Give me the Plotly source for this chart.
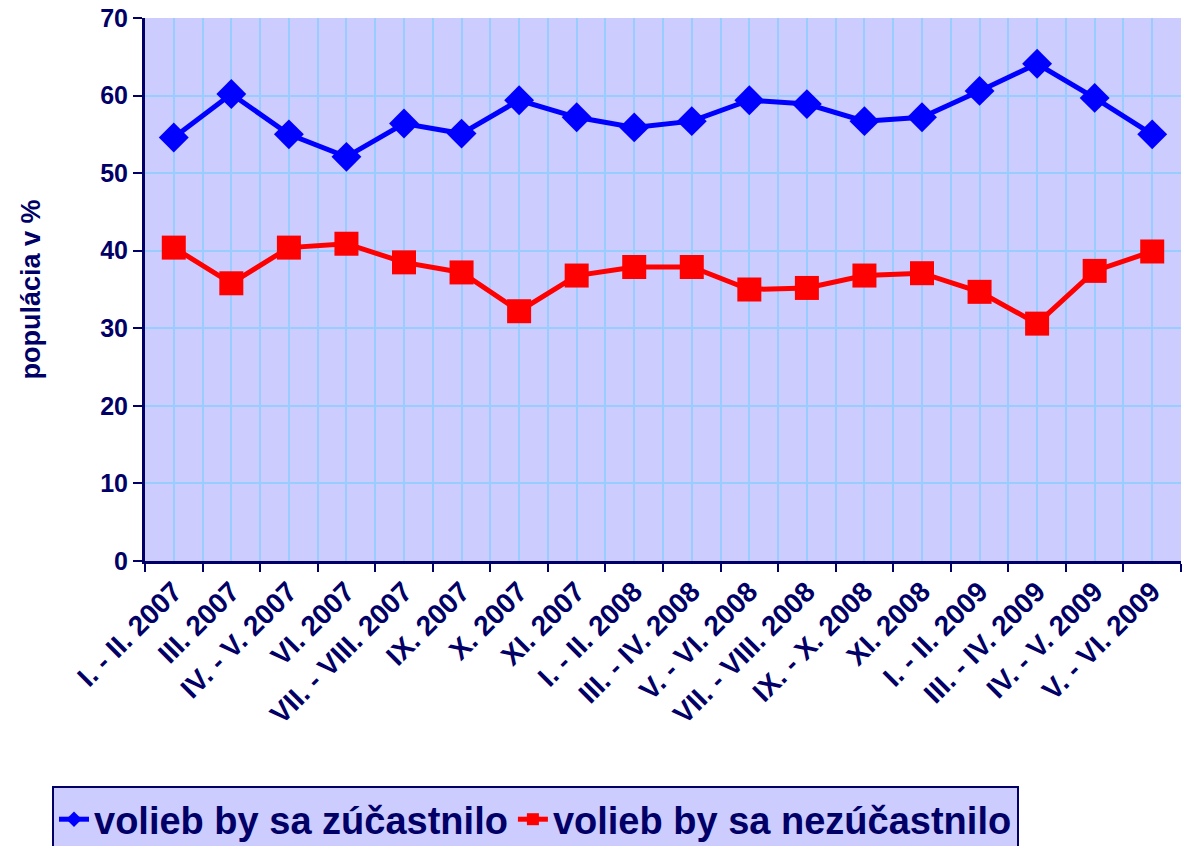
import plotly.graph_objects as go

categories = ["I. - II. 2007", "III. 2007", "IV. - V. 2007", "VI. 2007", "VII. - VIII. 2007",
              "IX. 2007", "X. 2007", "XI. 2007", "I. - II. 2008", "III. - IV. 2008",
              "V. - VI. 2008", "VII. - VIII. 2008", "IX. - X. 2008", "XI. 2008",
              "I. - II. 2009", "III. - IV. 2009", "IV. - V. 2009", "V. - VI. 2009"]
zucastnilo = [54.6, 60.2, 55.0, 52.1, 56.4, 55.1, 59.4, 57.2, 55.9, 56.7,
              59.4, 58.9, 56.7, 57.2, 60.6, 64.1, 59.7, 55.0]
nezucastnilo = [40.4, 35.8, 40.4, 40.9, 38.5, 37.2, 32.2, 36.8, 37.9, 37.9,
                35.0, 35.2, 36.8, 37.1, 34.7, 30.6, 37.4, 39.9]
series_names = ["volieb by sa zúčastnilo", "volieb by sa nezúčastnilo"]
y_ticks = [0, 10, 20, 30, 40, 50, 60, 70]

NAVY = "#000066"
FONT = "Liberation Sans, Arial, sans-serif"
xs = list(range(len(categories)))

fig = go.Figure()
fig.add_trace(go.Scatter(x=xs, y=zucastnilo, name=series_names[0], mode="lines+markers",
                         line=dict(color="#0000FF", width=5),
                         marker=dict(symbol="diamond", size=23, color="#0000FF")))
fig.add_trace(go.Scatter(x=xs, y=nezucastnilo, name=series_names[1], mode="lines+markers",
                         line=dict(color="#FF0000", width=5),
                         marker=dict(symbol="square", size=24, color="#FF0000")))

fig.update_layout(
    width=1189, height=846,
    margin=dict(l=145, r=8, t=18, b=285),
    paper_bgcolor="white", plot_bgcolor="#CCCCFF",
    font=dict(family=FONT, color=NAVY),
    showlegend=True,
    legend=dict(orientation="h", xref="container", yref="container",
                x=52/1189, y=1 - 786/846, xanchor="left", yanchor="top",
                bgcolor="#CCCCFF", bordercolor=NAVY, borderwidth=2,
                font=dict(family=FONT, size=38, color=NAVY, weight="bold"),
                itemsizing="constant", tracegroupgap=0),
)
fig.update_xaxes(
    range=[-0.5, len(categories) - 0.5],
    tickmode="array", tickvals=xs, ticktext=categories, tickangle=-45,
    tickfont=dict(family=FONT, size=28, color=NAVY, weight="bold"),
    ticks="", showgrid=True, gridcolor="#99CCFF", gridwidth=2,
    minor=dict(tickmode="array", tickvals=[i - 0.5 for i in range(len(categories) + 1)],
               ticks="outside", ticklen=8, tickcolor=NAVY, tickwidth=2,
               showgrid=True, gridcolor="#99CCFF", gridwidth=2),
    showline=True, linecolor=NAVY, linewidth=3, mirror=False,
    zeroline=False, automargin=False,
)
fig.update_yaxes(
    range=[0, 70], tickmode="array", tickvals=y_ticks,
    tickfont=dict(family=FONT, size=25, color=NAVY, weight="bold"),
    ticks="outside", ticklen=9, tickcolor=NAVY, tickwidth=2,
    showgrid=True, gridcolor="#99CCFF", gridwidth=2,
    showline=True, linecolor=NAVY, linewidth=3, zeroline=False, automargin=False,
    title=dict(text="populácia v %", standoff=52,
               font=dict(family=FONT, size=27, color=NAVY, weight="bold")),
)
fig.write_html("out.html", config={"displayModeBar": False},
               post_script="document.body.style.margin='0';")
